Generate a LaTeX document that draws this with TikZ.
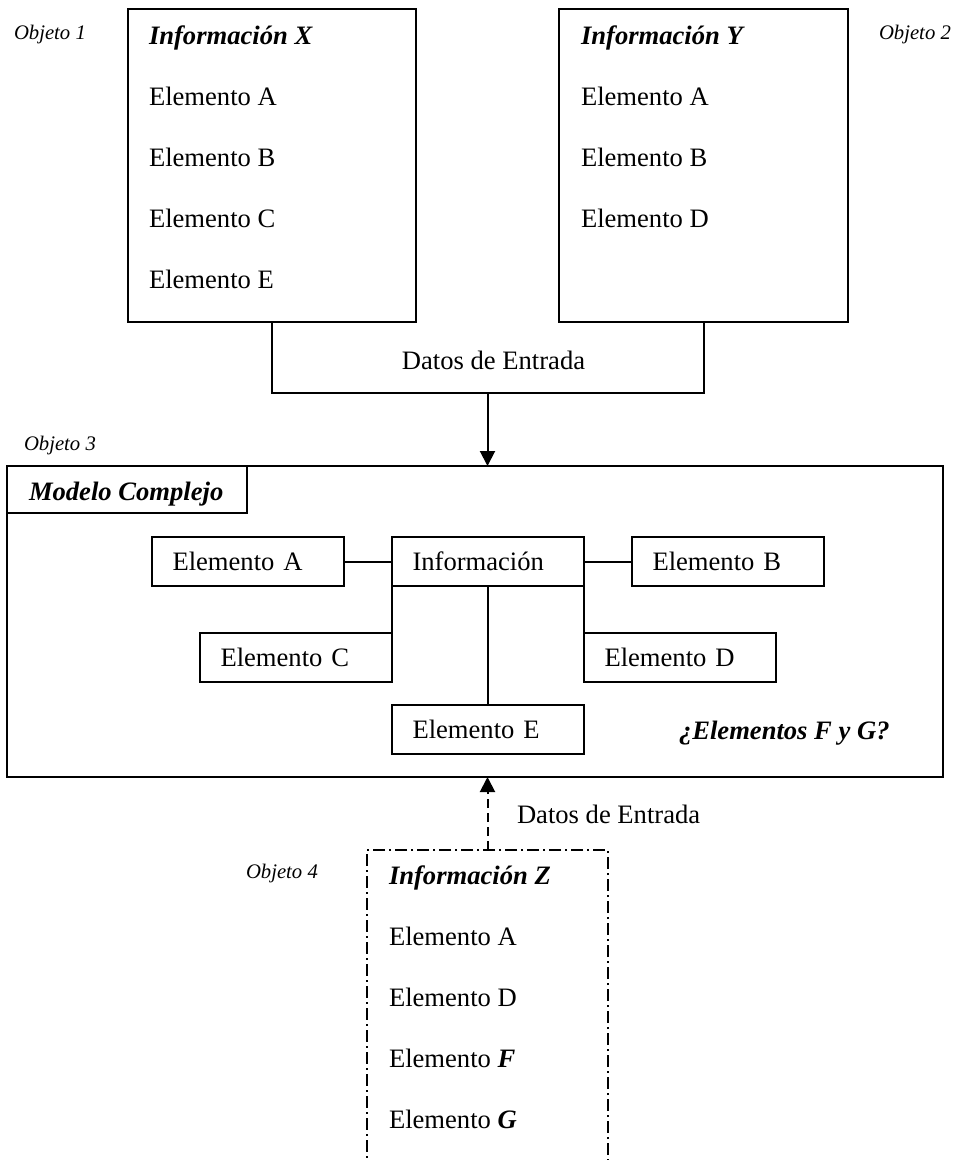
\documentclass[tikz,border=0pt]{standalone}
\usepackage{fontspec}
\setmainfont{Liberation Serif}
\usetikzlibrary{arrows.meta}
\begin{document}
\begin{tikzpicture}[x=1pt,y=-1pt,line width=2pt,
  txt/.style={anchor=base west,inner sep=0pt,font=\fontsize{26.6}{32}\selectfont},
  head/.style={anchor=base west,inner sep=0pt,font=\fontsize{26.6}{32}\selectfont\bfseries\itshape},
  obj/.style={anchor=base west,inner sep=0pt,font=\fontsize{20.7}{25}\selectfont\itshape},
  frame/.style={draw,rectangle,inner sep=0pt,outer sep=0pt},
  elbox/.style={draw,rectangle,inner xsep=21pt,inner ysep=0pt,outer sep=0pt,text width=150pt,
    minimum height=49pt,align=left,text height=18pt,text depth=0pt,
    font=\fontsize{26.6}{32}\selectfont},
  arr/.style={-{Triangle[length=15pt,width=15pt]}},
  dashdotline/.style={dash pattern=on 12pt off 4pt on 2pt off 4pt},
  dashline/.style={dash pattern=on 9pt off 5pt}]
\useasboundingbox (0,0) rectangle (953,1160);
\fill[white] (0,0) rectangle (953,1160);
\clip (0,0) rectangle (953,1160);

% upper source objects
\node[frame,minimum width=288pt,minimum height=313pt] (bx) at (272,165.5) {};
\node[frame,minimum width=289pt,minimum height=313pt] (by) at (703.5,165.5) {};
\node[obj] (o1) at (13,39) {Objeto 1};
\node[obj] (o2) at (878,39) {Objeto 2};

\node[head] (xh) at (148,44) {Información X};
\node[txt] (xa) at (148,105) {Elemento A};
\node[txt] (xb) at (148,166) {Elemento B};
\node[txt] (xc) at (148,227) {Elemento C};
\node[txt] (xe) at (148,288) {Elemento E};

\node[head] (yh) at (580,44) {Información Y};
\node[txt] (ya) at (580,105) {Elemento A};
\node[txt] (yb) at (580,166) {Elemento B};
\node[txt] (yd) at (580,227) {Elemento D};

% merge of the two inputs
\coordinate (jl) at (272,393);
\coordinate (jr) at (703.5,393);
\coordinate (jm) at (487.5,393);
\draw (bx.south) -- (jl) -- (jr) -- (by.south);
\node[txt,anchor=base] (d1) at (493.5,369) {Datos de Entrada};

% complex model
\node[obj] (o3) at (23,450) {Objeto 3};
\node[frame,minimum width=936pt,minimum height=311pt] (main) at (475,621.5) {};
\node[frame,minimum width=240pt,minimum height=47pt] (mhead) at (127,489.5) {};
\node[head] (mt) at (28,500) {Modelo Complejo};
\draw[arr] (jm) -- (jm |- main.north);

\node[elbox] (ea) at (247.5,561.5) {Elemento A};
\node[elbox] (info) at (487.5,561.5) {Información};
\node[elbox] (eb) at (727.5,561.5) {Elemento B};
\node[elbox] (ec) at (295.5,657.5) {Elemento C};
\node[elbox] (ed) at (679.5,657.5) {Elemento D};
\node[elbox] (ee) at (487.5,729.5) {Elemento E};
\draw (ea.east) -- (info.west);
\draw (info.east) -- (eb.west);
\draw (info.south west) -- (ec.north east);
\draw (info.south east) -- (ed.north west);
\draw (info.south) -- (ee.north);
\node[head] (fg) at (678,739) {¿Elementos F y G?};

% fourth object
\node[frame,dashdotline,minimum width=241pt,minimum height=350pt] (zb) at (487.5,1025) {};
\node[obj] (o4) at (245,878) {Objeto 4};
\draw[arr,dashline] (zb.north) -- (zb.north |- main.south);
\node[txt] (d2) at (516,823) {Datos de Entrada};
\node[head] (zh) at (388,884) {Información Z};
\node[txt] (za) at (388,945) {Elemento A};
\node[txt] (zd) at (388,1006) {Elemento D};
\node[txt] (zf) at (388,1067) {Elemento \textbf{\textit{F}}};
\node[txt] (zg) at (388,1128) {Elemento \textbf{\textit{G}}};
\end{tikzpicture}
\end{document}
